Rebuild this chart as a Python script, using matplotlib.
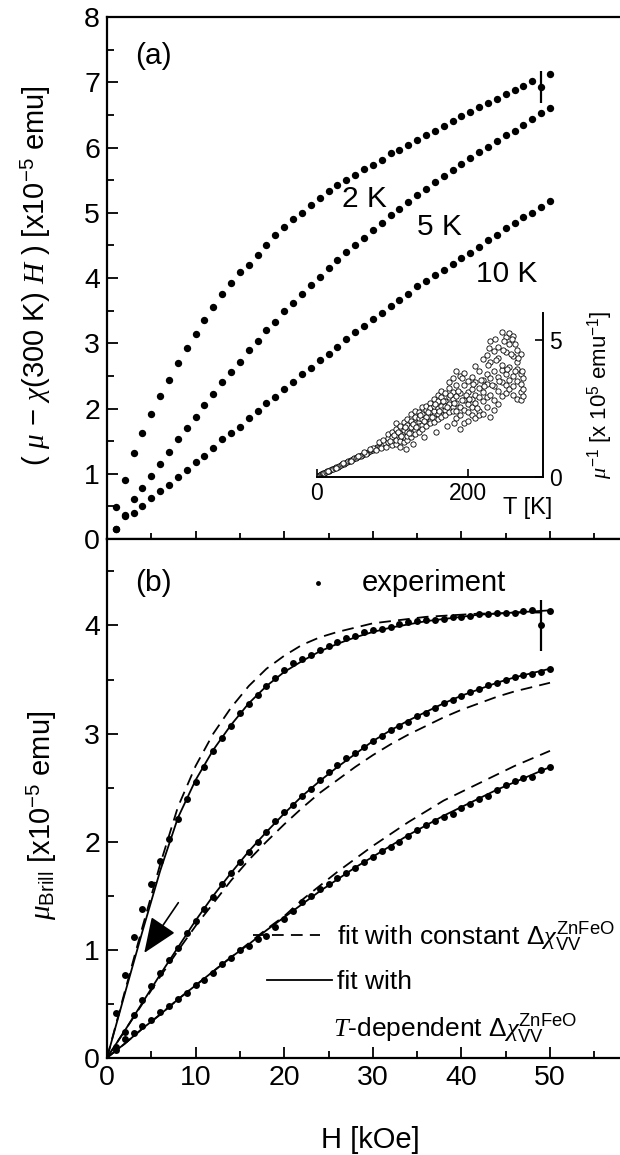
import matplotlib
matplotlib.use('Agg')
import matplotlib.pyplot as plt
from matplotlib.ticker import MultipleLocator

plt.rcParams['font.family'] = ['Liberation Sans', 'DejaVu Sans']
plt.rcParams['mathtext.fontset'] = 'custom'
plt.rcParams['mathtext.rm'] = 'Liberation Sans'
plt.rcParams['mathtext.sf'] = 'Liberation Sans'
plt.rcParams['mathtext.it'] = 'Liberation Serif:italic'
plt.rcParams['mathtext.bf'] = 'Liberation Sans:bold'

# field values [kOe]
H = list(range(1, 51))

# (a) mu - chi(300K) H  [x1e-5 emu]
mu_2K_a = [0.49, 0.90, 1.32, 1.63, 1.91, 2.19, 2.44, 2.70, 2.93, 3.15,
           3.36, 3.56, 3.75, 3.92, 4.09, 4.20, 4.35, 4.51, 4.66, 4.78,
           4.90, 5.00, 5.12, 5.22, 5.33, 5.43, 5.51, 5.58, 5.67, 5.73,
           5.81, 5.91, 5.96, 6.04, 6.12, 6.20, 6.26, 6.33, 6.41, 6.48,
           6.55, 6.62, 6.69, 6.75, 6.82, 6.89, 6.95, 7.02, 6.93, 7.13]
mu_5K_a = [0.16, 0.37, 0.61, 0.78, 0.97, 1.15, 1.33, 1.54, 1.70, 1.87,
           2.05, 2.22, 2.40, 2.56, 2.72, 2.89, 3.04, 3.20, 3.33, 3.49,
           3.62, 3.75, 3.89, 4.02, 4.15, 4.28, 4.40, 4.51, 4.62, 4.73,
           4.84, 4.97, 5.06, 5.17, 5.27, 5.36, 5.47, 5.57, 5.66, 5.75,
           5.84, 5.93, 6.01, 6.10, 6.19, 6.25, 6.35, 6.44, 6.53, 6.60]
mu_10K_a = [0.16, 0.36, 0.40, 0.51, 0.63, 0.74, 0.83, 0.95, 1.06, 1.18,
            1.27, 1.40, 1.54, 1.62, 1.72, 1.85, 1.96, 2.08, 2.18, 2.30,
            2.41, 2.53, 2.62, 2.74, 2.84, 2.94, 3.06, 3.17, 3.27, 3.37,
            3.47, 3.57, 3.66, 3.76, 3.88, 3.96, 4.05, 4.13, 4.22, 4.31,
            4.39, 4.48, 4.58, 4.66, 4.76, 4.85, 4.94, 5.00, 5.09, 5.18]
err_a = 0.24  # error bar on 2 K point at 49 kOe

# inset: T [K] vs 1/mu [x1e5 emu^-1]
inset_pts = [
    (1, 0.02), (2, 0.03), (3, 0.04), (4, 0.05), (5, 0.07), (6, 0.08), (7, 0.09),
    (8, 0.11), (9, 0.12), (10, 0.13), (12, 0.16), (14, 0.19), (16, 0.21),
    (18, 0.24), (20, 0.27), (22, 0.29), (24, 0.32), (26, 0.35), (28, 0.37),
    (30, 0.40), (32, 0.43), (34, 0.45), (36, 0.48), (38, 0.51), (40, 0.53),
    (42, 0.56), (44, 0.59), (46, 0.61), (48, 0.64), (50, 0.67), (52, 0.70),
    (54, 0.71), (56, 0.75), (58, 0.77), (60, 0.81), (62, 0.82), (64, 0.86),
    (66, 0.87), (68, 0.92), (70, 0.93), (72, 0.97), (74, 0.98), (76, 1.03),
    (78, 1.04), (80, 1.08), (82, 1.12), (84, 1.10), (86, 1.17), (88, 1.15),
    (90, 1.22), (15, 0.22), (25, 0.31), (35, 0.49), (45, 0.58), (55, 0.77),
    (65, 0.84), (75, 1.06), (85, 1.05), (62, 0.90), (70, 1.00), (78, 0.98),
    (83, 1.25), (88, 1.35), (92, 1.10),
    (95, 1.25), (95, 1.40), (95, 1.55),
    (100, 1.30), (100, 1.15), (100, 1.62), (100, 1.45),
    (105, 1.20), (105, 1.75), (105, 1.50), (105, 1.35), (105, 1.95),
    (110, 1.40), (110, 1.30), (110, 1.85), (110, 1.60), (110, 1.10),
    (115, 1.55), (115, 2.00), (115, 1.25), (115, 1.70), (115, 1.45),
    (120, 1.35), (120, 1.90), (120, 1.65), (120, 2.10), (120, 1.50),
    (125, 1.80), (125, 2.30), (125, 1.45), (125, 1.60), (125, 2.05),
    (130, 1.70), (130, 2.20), (130, 1.55), (130, 1.95), (130, 2.40),
    (135, 2.00), (135, 1.65), (135, 2.35), (135, 1.85), (135, 2.15),
    (140, 2.55), (140, 1.90), (140, 2.10), (140, 1.75), (140, 2.30),
    (145, 2.20), (145, 2.45), (145, 1.95), (145, 2.60), (145, 1.85),
    (150, 2.05), (150, 2.70), (150, 2.35), (150, 1.95), (150, 2.50),
    (155, 2.40), (155, 2.15), (155, 2.85), (155, 2.60), (155, 2.00),
    (160, 2.30), (160, 2.75), (160, 2.10), (160, 2.50), (160, 3.00),
    (165, 2.60), (165, 2.20), (165, 2.90), (165, 2.45), (165, 3.15),
    (170, 2.45), (170, 3.05), (170, 2.25), (170, 2.75), (170, 2.60),
    (175, 2.90), (175, 2.35), (175, 3.25), (175, 2.65), (175, 3.45),
    (180, 2.55), (180, 3.10), (180, 2.40), (180, 2.85), (180, 3.60),
    (185, 2.95), (185, 2.40), (185, 3.35), (185, 2.15), (185, 2.70),
    (190, 1.75), (190, 3.70), (190, 2.55), (190, 3.05), (190, 2.25),
    (195, 1.95), (195, 2.80), (195, 3.35), (195, 2.45), (195, 3.80),
    (200, 2.05), (200, 2.65), (200, 3.10), (200, 2.35), (200, 3.50),
    (205, 2.25), (205, 2.85), (205, 3.65), (205, 2.55), (205, 3.20),
    (210, 2.15), (210, 3.00), (210, 3.45), (210, 2.70), (210, 4.05),
    (215, 2.40), (215, 3.25), (215, 2.90), (215, 3.85), (215, 2.25),
    (220, 2.30), (220, 3.10), (220, 4.30), (220, 2.75), (220, 3.55),
    (225, 2.55), (225, 3.40), (225, 4.45), (225, 2.90), (225, 3.75),
    (230, 2.20), (230, 3.00), (230, 4.95), (230, 3.60), (230, 4.20),
    (235, 2.45), (235, 3.30), (235, 4.60), (235, 3.85), (235, 2.80),
    (240, 2.65), (240, 3.65), (240, 4.75), (240, 3.15), (240, 4.35),
    (245, 2.95), (245, 3.45), (245, 5.30), (245, 3.90), (245, 4.10),
    (250, 3.05), (250, 3.75), (250, 4.55), (250, 3.35), (250, 5.10),
    (255, 3.20), (255, 4.00), (255, 4.85), (255, 3.55), (255, 5.25),
    (260, 3.00), (260, 3.70), (260, 4.40), (260, 3.30), (260, 5.15),
    (265, 2.85), (265, 3.50), (265, 4.20), (265, 3.95), (265, 4.65),
    (270, 2.80), (270, 3.40), (270, 3.75), (270, 3.10), (270, 4.50),
    (273, 3.20), (273, 2.95), (273, 3.60),
    (97, 1.32), (102, 1.52), (107, 1.62), (112, 1.48), (117, 1.82),
    (122, 1.58), (127, 1.92), (132, 1.80), (137, 2.25), (142, 2.05),
    (147, 2.35), (152, 2.20), (157, 2.65), (162, 2.40), (167, 2.75),
    (172, 2.55), (177, 3.00), (182, 2.70), (187, 3.15), (192, 2.80),
    (197, 3.00), (202, 2.85), (207, 3.40), (212, 2.50), (217, 3.55),
    (222, 3.30), (227, 4.10), (232, 3.35), (237, 4.25), (242, 3.50),
    (247, 4.65), (252, 3.95), (257, 4.50), (262, 3.85), (267, 4.35),
    (272, 3.85), (248, 4.95), (258, 5.05), (263, 4.85), (236, 5.05),
    (228, 4.70), (185, 3.85), (192, 3.60), (118, 1.00), (128, 1.20),
    (142, 1.45), (158, 1.65), (172, 1.85), (182, 1.95),
]

# (b) mu_Brill [x1e-5 emu], experiment
mu_2K_b = [0.41, 0.77, 1.12, 1.38, 1.61, 1.82, 2.02, 2.21, 2.39, 2.55,
           2.69, 2.84, 2.96, 3.07, 3.19, 3.27, 3.36, 3.44, 3.51, 3.59,
           3.65, 3.69, 3.73, 3.77, 3.81, 3.85, 3.88, 3.90, 3.94, 3.96,
           3.97, 3.99, 4.01, 4.03, 4.04, 4.05, 4.05, 4.06, 4.08, 4.08,
           4.09, 4.11, 4.11, 4.12, 4.12, 4.12, 4.13, 4.14, 4.00, 4.13]
mu_5K_b = [0.10, 0.24, 0.40, 0.53, 0.66, 0.78, 0.90, 1.02, 1.15, 1.27,
           1.38, 1.49, 1.61, 1.71, 1.81, 1.90, 2.00, 2.09, 2.19, 2.27,
           2.34, 2.42, 2.49, 2.57, 2.64, 2.71, 2.77, 2.82, 2.88, 2.93,
           2.98, 3.03, 3.07, 3.11, 3.16, 3.19, 3.24, 3.28, 3.31, 3.35,
           3.38, 3.41, 3.45, 3.47, 3.50, 3.52, 3.54, 3.55, 3.57, 3.60]
mu_10K_b = [0.07, 0.17, 0.23, 0.29, 0.35, 0.42, 0.48, 0.54, 0.60, 0.67,
            0.72, 0.78, 0.87, 0.92, 1.00, 1.03, 1.10, 1.13, 1.21, 1.28,
            1.36, 1.44, 1.50, 1.56, 1.61, 1.66, 1.71, 1.76, 1.81, 1.86,
            1.91, 1.95, 2.00, 2.05, 2.11, 2.15, 2.19, 2.23, 2.26, 2.31,
            2.35, 2.39, 2.42, 2.48, 2.52, 2.56, 2.59, 2.60, 2.66, 2.69]
err_b = 0.235

# (b) fits
fit_H = [0, 2, 4, 6, 8, 10, 12, 14, 16, 18, 20, 22, 24, 26, 28, 30,
         32, 34, 36, 38, 40, 42, 44, 46, 48, 50]
fitT_2K = [0, 0.59, 1.17, 1.73, 2.22, 2.57, 2.85, 3.08, 3.28, 3.44, 3.57, 3.67, 3.76,
           3.83, 3.89, 3.94, 3.98, 4.01, 4.04, 4.06, 4.08, 4.10, 4.11, 4.12, 4.13, 4.14]
fitC_2K = [0, 0.61, 1.21, 1.79, 2.32, 2.70, 3.00, 3.24, 3.44, 3.60, 3.72, 3.82, 3.89,
           3.94, 3.98, 4.02, 4.04, 4.06, 4.08, 4.09, 4.10, 4.11, 4.11, 4.12, 4.12, 4.12]
fitT_5K = [0, 0.25, 0.51, 0.77, 1.02, 1.27, 1.50, 1.71, 1.91, 2.09, 2.26, 2.42, 2.56,
           2.69, 2.81, 2.93, 3.03, 3.12, 3.20, 3.28, 3.35, 3.41, 3.47, 3.52, 3.56, 3.60]
fitC_5K = [0, 0.25, 0.50, 0.75, 0.99, 1.22, 1.43, 1.64, 1.83, 2.00, 2.16, 2.31, 2.45,
           2.57, 2.69, 2.80, 2.90, 2.99, 3.07, 3.15, 3.22, 3.28, 3.34, 3.39, 3.43, 3.47]
fitT_10K = [0, 0.13, 0.27, 0.40, 0.54, 0.67, 0.80, 0.93, 1.05, 1.18, 1.30, 1.42, 1.54,
            1.65, 1.76, 1.86, 1.96, 2.06, 2.15, 2.24, 2.32, 2.40, 2.48, 2.55, 2.62, 2.69]
fitC_10K = [0, 0.13, 0.27, 0.40, 0.54, 0.67, 0.80, 0.93, 1.06, 1.19, 1.31, 1.46, 1.59,
            1.72, 1.84, 1.96, 2.07, 2.18, 2.28, 2.38, 2.46, 2.54, 2.62, 2.70, 2.77, 2.84]

x_ticks = [0, 10, 20, 30, 40, 50]
dash = (0, (6.5, 4))


def style_main(ax):
    ax.set_xlim(0, 60)
    ax.xaxis.set_major_locator(plt.FixedLocator(x_ticks))
    ax.xaxis.set_minor_locator(MultipleLocator(5))
    ax.yaxis.set_major_locator(MultipleLocator(1))
    ax.yaxis.set_minor_locator(MultipleLocator(0.5))
    for s in ax.spines.values():
        s.set_linewidth(1.6)
    ax.spines['right'].set_visible(False)
    ax.tick_params(which='major', length=8, width=1.3, labelsize=20.5, pad=5)
    ax.tick_params(which='minor', length=5, width=1.3)
    ax.tick_params(axis='y', which='both', direction='in', right=False)


fig = plt.figure(figsize=(6.2, 11.55), dpi=100)
ax_a = fig.add_axes([0.1726, 0.5333, 0.8574, 0.4519])
ax_b = fig.add_axes([0.1726, 0.0842, 0.8574, 0.4491])
ax_in = fig.add_axes([0.5108, 0.5873, 0.3655, 0.1420])

# ---- panel (a)
style_main(ax_a)
ax_a.set_ylim(0, 8)
ax_a.tick_params(axis='x', which='both', direction='inout', top=False,
                 labelbottom=False)
ax_a.tick_params(axis='x', which='major', length=12)
ax_a.tick_params(axis='x', which='minor', length=8)
for mu in (mu_2K_a, mu_5K_a, mu_10K_a):
    ax_a.plot(H, mu, 'o', ms=5.3, color='k', mec='none', zorder=3)
ax_a.errorbar(H[48], mu_2K_a[48], yerr=err_a, fmt='none', ecolor='k',
              elinewidth=1.6, capsize=0)
ax_a.text(5.2, 7.4, '(a)', fontsize=21.5, ha='center', va='center')
ax_a.text(29.1, 5.21, '2 K', fontsize=21.5, ha='center', va='center')
ax_a.text(37.5, 4.78, '5 K', fontsize=21.5, ha='center', va='center')
ax_a.text(45.1, 4.06, '10 K', fontsize=21.5, ha='center', va='center')
ax_a.text(-0.134, 0.505,
          r'( $\mu$ $-$ $\chi$(300 K) $H$ ) [x10$^{-5}$ emu]',
          transform=ax_a.transAxes, rotation=90, fontsize=21,
          ha='center', va='center')

# ---- inset
ax_in.patch.set_alpha(0)
ax_in.set_xlim(0, 300)
ax_in.set_ylim(0, 6)
ax_in.spines['top'].set_visible(False)
ax_in.spines['left'].set_visible(False)
for s in ('bottom', 'right'):
    ax_in.spines[s].set_linewidth(1.4)
ax_in.yaxis.tick_right()
ax_in.set_xticks([0, 200])
ax_in.set_yticks([0, 5])
ax_in.tick_params(direction='in', length=6, width=1.2, labelsize=16.5, pad=4)
inset_T = [p[0] for p in inset_pts]
inset_inv = [p[1] for p in inset_pts]
ax_in.plot(inset_T, inset_inv, 'o', ms=3.8, mfc='white', mec='k', mew=0.6)
ax_in.text(0.932, -0.19, 'T [K]', transform=ax_in.transAxes, fontsize=17,
           ha='center', va='center')
ax_in.text(1.25, 0.5, r'$\mu^{-1}$ [x 10$^5$ emu$^{-1}$]',
           transform=ax_in.transAxes, rotation=90, fontsize=16,
           ha='center', va='center')

# ---- panel (b)
style_main(ax_b)
ax_b.set_ylim(0, 4.8)
ax_b.tick_params(axis='x', which='both', direction='in', top=False)
for fitT, fitC in ((fitT_2K, fitC_2K), (fitT_5K, fitC_5K), (fitT_10K, fitC_10K)):
    ax_b.plot(fit_H, fitC, color='k', lw=1.3, linestyle=dash, zorder=2)
    ax_b.plot(fit_H, fitT, color='k', lw=1.3, zorder=2)
for mu in (mu_2K_b, mu_5K_b, mu_10K_b):
    ax_b.plot(H, mu, 'o', ms=5.0, color='k', mec='none', zorder=3)
ax_b.errorbar(H[48], mu_2K_b[48], yerr=err_b, fmt='none', ecolor='k',
              elinewidth=1.6, capsize=0)
ax_b.annotate('', xy=(4.2, 0.97), xytext=(8.05, 1.435),
              arrowprops=dict(arrowstyle='-|>,head_length=1.1,head_width=0.45',
                              mutation_scale=20, lw=1.2, color='k',
                              shrinkA=0, shrinkB=0))
ax_b.text(5.2, 4.39, '(b)', fontsize=21.5, ha='center', va='center')
ax_b.plot([23.8], [4.39], 'o', ms=3.5, color='k', mec='none')
ax_b.text(28.7, 4.39, 'experiment', fontsize=21, ha='left', va='center')
ax_b.plot([16.5, 24.0], [1.14, 1.14], color='k', lw=1.3, linestyle=dash)
ax_b.text(26.0, 1.04, r'fit with constant $\Delta\chi_{\mathrm{VV}}^{\mathrm{ZnFeO}}$',
          fontsize=19, ha='left', va='baseline')
ax_b.plot([18.1, 25.4], [0.72, 0.72], color='k', lw=1.3)
ax_b.text(26.0, 0.64, 'fit with', fontsize=19, ha='left', va='baseline')
ax_b.text(25.5, 0.19, r'$T$-dependent $\Delta\chi_{\mathrm{VV}}^{\mathrm{ZnFeO}}$',
          fontsize=19, ha='left', va='baseline')
ax_b.text(0.495, -0.158, 'H [kOe]', transform=ax_b.transAxes, fontsize=21,
          ha='center', va='center')
ax_b.text(-0.122, 0.468, r'$\mu_{\mathrm{Brill}}$ [x10$^{-5}$ emu]',
          transform=ax_b.transAxes, rotation=90, fontsize=21,
          ha='center', va='center')

fig.savefig('out.png', dpi=100)
